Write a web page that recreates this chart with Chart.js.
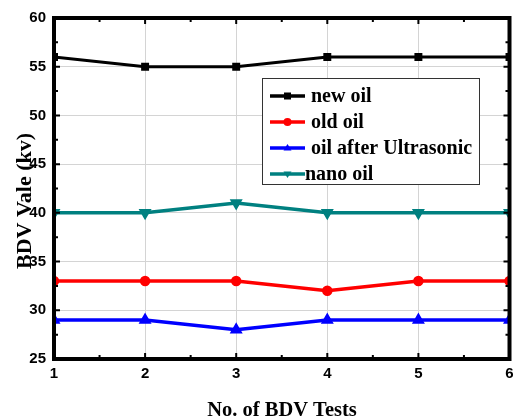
<!DOCTYPE html>
<html>
<head>
<meta charset="utf-8">
<script src="https://cdn.jsdelivr.net/npm/chart.js@4.4.1/dist/chart.umd.min.js"></script>
<style>
html,body{margin:0;padding:0;background:#fff;}
#wrap{width:517px;height:417px;position:relative;}
</style>
</head>
<body>
<div id="wrap"><canvas id="c" width="517" height="417"></canvas></div>
<script>
const tests = [1, 2, 3, 4, 5, 6];
const newOil = [56, 55, 55, 56, 56, 56];
const oldOil = [33, 33, 33, 32, 33, 33];
const ultrasonicOil = [29, 29, 28, 29, 29, 29];
const nanoOil = [40, 40, 41, 40, 40, 40];
const seriesNames = ['new oil', 'old oil', 'oil after Ultrasonic', 'nano oil'];
const xTicks = [1, 2, 3, 4, 5, 6];
const yTicks = [25, 30, 35, 40, 45, 50, 55, 60];
const xTitle = 'No. of BDV Tests';
const yTitle = 'BDV Vale (kv)';

const toXY = arr => arr.map((v, i) => ({x: tests[i], y: v}));
const serif = '"Liberation Serif", "Times New Roman", serif';

const frame = {
  id: 'frame',
  afterDatasetsDraw(chart) {
    const {ctx, chartArea: a, scales: {x, y}} = chart;
    ctx.save();
    ctx.strokeStyle = '#000';
    ctx.lineWidth = 2;
    for (let v = 1; v <= 6; v += 0.5) {
      const px = x.getPixelForValue(v);
      const len = Number.isInteger(v) ? 6 : 4;
      ctx.beginPath();
      ctx.moveTo(px, a.bottom); ctx.lineTo(px, a.bottom - len);
      ctx.moveTo(px, a.top); ctx.lineTo(px, a.top + len);
      ctx.stroke();
    }
    for (let v = 25; v <= 60; v += 2.5) {
      const py = y.getPixelForValue(v);
      const len = (v % 5 === 0) ? 6 : 4;
      ctx.beginPath();
      ctx.moveTo(a.left, py); ctx.lineTo(a.left + len, py);
      ctx.moveTo(a.right, py); ctx.lineTo(a.right - len, py);
      ctx.stroke();
    }
    ctx.lineWidth = 4;
    ctx.strokeRect(a.left, a.top, a.right - a.left, a.bottom - a.top);
    ctx.restore();
  },
  afterDraw(chart) {
    const {ctx} = chart;
    ctx.save();
    ctx.fillStyle = '#000';
    ctx.font = 'bold 22px ' + serif;
    ctx.translate(25, 201);
    ctx.rotate(-Math.PI / 2);
    ctx.textAlign = 'center';
    ctx.textBaseline = 'middle';
    ctx.fillText(yTitle, 0, 0);
    ctx.restore();

    ctx.save();
    ctx.fillStyle = '#000';
    ctx.font = 'bold 20.5px ' + serif;
    ctx.textAlign = 'center';
    ctx.textBaseline = 'alphabetic';
    ctx.fillText(xTitle, 282, 416);
    ctx.restore();

    // legend
    ctx.save();
    const bx = 262, by = 78, bw = 217, bh = 106;
    ctx.fillStyle = '#fff';
    ctx.fillRect(bx, by, bw, bh);
    ctx.strokeStyle = '#333';
    ctx.lineWidth = 1;
    ctx.strokeRect(bx + 0.5, by + 0.5, bw, bh);
    const rows = [96, 122, 148, 174];
    ctx.font = 'bold 20px ' + serif;
    ctx.textBaseline = 'middle';
    ctx.textAlign = 'left';
    chart.data.datasets.forEach((ds, i) => {
      const yy = rows[i];
      ctx.strokeStyle = ds.borderColor;
      ctx.lineWidth = 3.5;
      ctx.beginPath();
      ctx.moveTo(270, yy); ctx.lineTo(305, yy);
      ctx.stroke();
      ctx.fillStyle = ds.borderColor;
      const cx = 287.5;
      ctx.beginPath();
      if (ds.pointStyle === 'rect') {
        ctx.fillRect(cx - 3.5, yy - 3.5, 7, 7);
      } else if (ds.pointStyle === 'circle') {
        ctx.arc(cx, yy, 4, 0, Math.PI * 2); ctx.fill();
      } else if (ds.pointRotation === 180) {
        ctx.moveTo(cx - 4, yy - 2.5); ctx.lineTo(cx + 4, yy - 2.5); ctx.lineTo(cx, yy + 4); ctx.closePath(); ctx.fill();
      } else {
        ctx.moveTo(cx - 4, yy + 2.5); ctx.lineTo(cx + 4, yy + 2.5); ctx.lineTo(cx, yy - 4); ctx.closePath(); ctx.fill();
      }
      ctx.fillStyle = '#000';
      ctx.fillText(ds.label, i === 3 ? 305 : 311, yy + 1);
    });
    ctx.restore();
  }
};

new Chart(document.getElementById('c'), {
  type: 'line',
  data: {
    datasets: [
      {label: seriesNames[0], data: toXY(newOil), borderColor: '#000000', backgroundColor: '#000000', pointStyle: 'rect', pointRadius: 3.5, borderWidth: 3},
      {label: seriesNames[1], data: toXY(oldOil), borderColor: '#ff0000', backgroundColor: '#ff0000', pointStyle: 'circle', pointRadius: 3.5, borderWidth: 3.5},
      {label: seriesNames[2], data: toXY(ultrasonicOil), borderColor: '#0000ff', backgroundColor: '#0000ff', pointStyle: 'triangle', pointRadius: 4, borderWidth: 3.5},
      {label: seriesNames[3], data: toXY(nanoOil), borderColor: '#008080', backgroundColor: '#008080', pointStyle: 'triangle', pointRotation: 180, pointRadius: 4, borderWidth: 3.5}
    ]
  },
  options: {
    responsive: false,
    animation: false,
    devicePixelRatio: 1,
    layout: {padding: {top: 18, right: 7, left: 0, bottom: 0}},
    plugins: {legend: {display: false}, tooltip: {enabled: false}},
    elements: {line: {tension: 0}, point: {borderWidth: 0}},
    scales: {
      x: {
        type: 'linear', min: 1, max: 6,
        afterBuildTicks: s => { s.ticks = xTicks.map(v => ({value: v})); },
        afterFit: s => { s.height = 58; s.paddingLeft = 0; s.paddingRight = 0; },
        grid: {color: '#d4d4d4', lineWidth: 1, drawTicks: false},
        border: {display: false},
        ticks: {padding: 6, color: '#000', font: {family: '"Liberation Sans", Arial, sans-serif', weight: 'bold', size: 15}, maxRotation: 0}
      },
      y: {
        type: 'linear', min: 25, max: 60,
        afterBuildTicks: s => { s.ticks = yTicks.map(v => ({value: v})); },
        afterFit: s => { s.width = 54; s.paddingTop = 0; s.paddingBottom = 0; },
        grid: {color: '#d4d4d4', lineWidth: 1, drawTicks: false},
        border: {display: false},
        ticks: {padding: 8, color: '#000', font: {family: '"Liberation Sans", Arial, sans-serif', weight: 'bold', size: 15}}
      }
    }
  },
  plugins: [frame]
});
</script>
</body>
</html>
